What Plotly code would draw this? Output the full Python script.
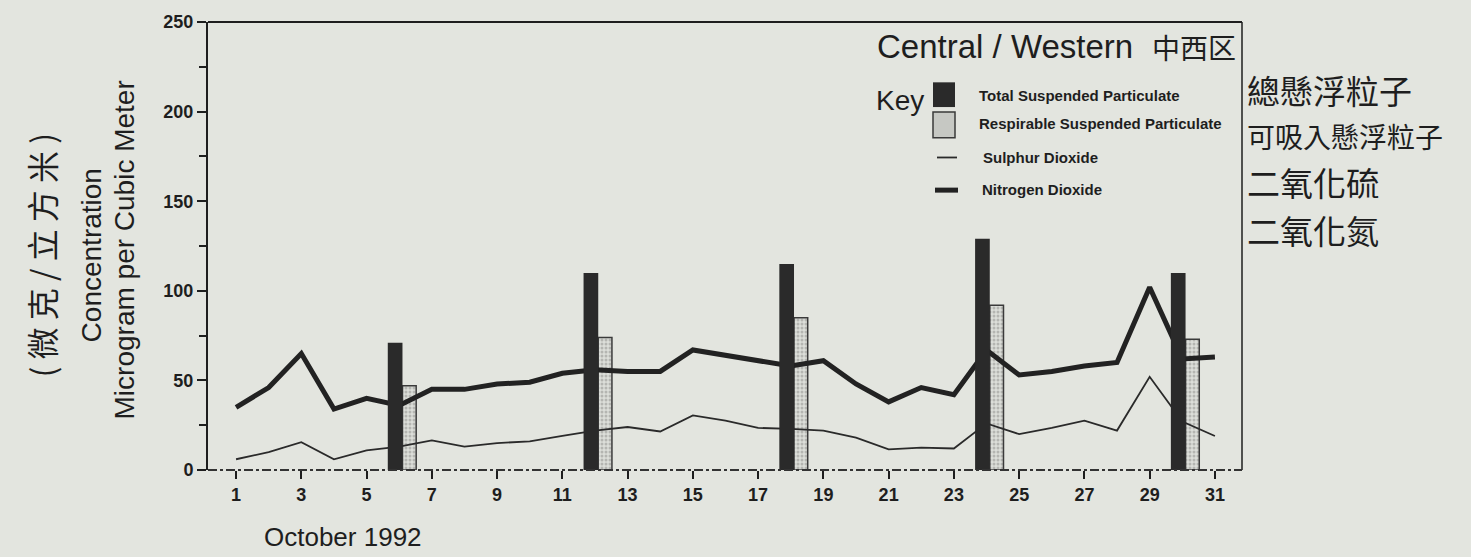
import plotly.graph_objects as go

# October 1992, Central / Western district
days = list(range(1, 32))
no2 = [35, 46, 65, 34, 40, 36, 45, 45, 48, 49, 54, 56, 55, 55, 67, 64,
       61, 58, 61, 48, 38, 46, 42, 67, 53, 55, 58, 60, 102, 62, 63]
so2 = [6, 10, 15.5, 6, 11, 13, 16.5, 13, 15, 16, 19, 22, 24, 21.5, 30.5, 27.5,
       23.5, 23, 22, 18, 11.5, 12.5, 12, 26, 20, 23.5, 27.5, 22, 52, 27, 19]

bar_days = [6, 12, 18, 24, 30]
tsp = [71, 110, 115, 129, 110]
rsp = [47, 74, 85, 92, 73]

xticks = list(range(1, 32, 2))

PAPER = "#e3e5df"
INK = "#1e1e1e"
FONT = "Liberation Sans, Arial, sans-serif"
CJK = "Noto Sans CJK TC"

# plot area in page pixels, used to place the loose text
L, R, T, B = 208, 1242, 17, 470


def px(x):
    return (x - L) / (R - L)


def py(y):
    return (B - y) / (B - T)


fig = go.Figure()

fig.add_trace(go.Bar(
    x=bar_days, y=rsp, offset=0.1, width=0.42,
    marker=dict(color="#d6d8d3",
                pattern=dict(shape=".", fgcolor="#8c8c8a", bgcolor="#dcded9",
                             size=4, solidity=0.45),
                line=dict(color="#3a3a3a", width=1.5)),
    name="Respirable Suspended Particulate",
))
fig.add_trace(go.Scatter(
    x=days, y=so2, mode="lines", line=dict(color="#2a2a2a", width=1.8),
    name="Sulphur Dioxide",
))
fig.add_trace(go.Scatter(
    x=days, y=no2, mode="lines", line=dict(color="#222222", width=5),
    name="Nitrogen Dioxide",
))
# TSP sits on an overlaid axis so it is drawn above the lines
fig.add_trace(go.Bar(
    x=bar_days, y=tsp, offset=-0.35, width=0.45,
    marker=dict(color="#2a2a2a", line=dict(width=0)),
    name="Total Suspended Particulate", xaxis="x2", yaxis="y2",
))

annotations = [
    dict(text="Central / Western", x=px(875), y=py(42), xanchor="left",
         font=dict(size=33, family=FONT)),
    dict(text="中西区", x=px(1150), y=py(42), xanchor="left",
         font=dict(size=28, family="Noto Sans CJK SC")),
    dict(text="Key", x=px(874), y=py(96), xanchor="left",
         font=dict(size=28, family=FONT)),
    dict(text="<b>Total Suspended Particulate</b>", x=px(977), y=py(91),
         xanchor="left", font=dict(size=15, family=FONT)),
    dict(text="<b>Respirable Suspended Particulate</b>", x=px(977), y=py(120),
         xanchor="left", font=dict(size=15, family=FONT)),
    dict(text="<b>Sulphur Dioxide</b>", x=px(981), y=py(154),
         xanchor="left", font=dict(size=15, family=FONT)),
    dict(text="<b>Nitrogen Dioxide</b>", x=px(980), y=py(186),
         xanchor="left", font=dict(size=15, family=FONT)),
    dict(text="總懸浮粒子", x=px(1245), y=py(86), xanchor="left",
         font=dict(size=33, family=CJK)),
    dict(text="可吸入懸浮粒子", x=px(1245), y=py(132), xanchor="left",
         font=dict(size=28, family=CJK)),
    dict(text="二氧化硫", x=px(1245), y=py(179), xanchor="left",
         font=dict(size=33, family=CJK)),
    dict(text="二氧化氮", x=px(1245), y=py(227), xanchor="left",
         font=dict(size=33, family=CJK)),
    dict(text="( 微 克 / 立 方 米 )", x=px(41), y=py(253), textangle=-90,
         font=dict(size=32, family=CJK)),
    dict(text="Concentration", x=px(91), y=py(253), textangle=-90,
         font=dict(size=28, family=FONT)),
    dict(text="Microgram per Cubic Meter", x=px(124), y=py(248), textangle=-90,
         font=dict(size=28, family=FONT)),
    dict(text="October 1992", x=px(262), y=py(538), xanchor="left",
         font=dict(size=26, family=FONT)),
]
for a in annotations:
    a.setdefault("xanchor", "center")
    a.update(xref="paper", yref="paper", yanchor="middle", showarrow=False)
    a["font"].setdefault("color", INK)

shapes = [
    # frame: top and right solid, bottom broken like the photocopy
    dict(type="line", xref="paper", yref="paper", x0=0, x1=1, y0=1, y1=1,
         line=dict(color=INK, width=2)),
    dict(type="line", xref="paper", yref="paper", x0=1, x1=1, y0=0, y1=1,
         line=dict(color=INK, width=1.5)),
    dict(type="line", xref="paper", yref="paper", x0=0, x1=1, y0=0, y1=0,
         line=dict(color="#333333", width=2, dash="dashdot")),
    # key swatches
    dict(type="rect", xref="paper", yref="paper", x0=px(933), x1=px(955),
         y0=py(103), y1=py(78), fillcolor="#2a2a2a", line=dict(width=0)),
    dict(type="rect", xref="paper", yref="paper", x0=px(933), x1=px(955),
         y0=py(134), y1=py(108), fillcolor="#c6c8c3",
         line=dict(color="#3a3a3a", width=1.5)),
    dict(type="line", xref="paper", yref="paper", x0=px(937), x1=px(957),
         y0=py(154), y1=py(154), line=dict(color="#2a2a2a", width=1.8)),
    dict(type="line", xref="paper", yref="paper", x0=px(935), x1=px(958),
         y0=py(187), y1=py(187), line=dict(color="#222222", width=5)),
]

xrange = [0.14, 31.83]
yrange = [0, 250]

fig.update_layout(
    width=1471, height=557,
    margin=dict(l=L, r=1471 - R, t=T, b=557 - B),
    paper_bgcolor=PAPER, plot_bgcolor=PAPER,
    showlegend=False, barmode="overlay",
    font=dict(family=FONT, color=INK, size=18),
    xaxis=dict(range=xrange, tickvals=xticks, ticks="outside", ticklen=8,
               tickwidth=1.5, tickcolor=INK, showgrid=False, zeroline=False,
               showline=False, tickfont=dict(size=18, weight="bold")),
    yaxis=dict(range=yrange, dtick=50, ticks="outside", ticklen=9, tickwidth=1.5,
               tickcolor=INK, showline=True, linecolor=INK, linewidth=2,
               showgrid=False, zeroline=False,
               tickfont=dict(size=18, weight="bold"),
               minor=dict(dtick=25, ticks="outside", ticklen=7, tickwidth=1.5,
                          tickcolor=INK)),
    xaxis2=dict(range=xrange, overlaying="x", visible=False),
    yaxis2=dict(range=yrange, overlaying="y", visible=False),
    annotations=annotations,
    shapes=shapes,
)

# drop the browser's default page margin so the figure fills the window
fig.write_html("out.html", config={"displayModeBar": False},
               post_script="document.body.style.margin='0';"
                           "document.body.style.background='" + PAPER + "';")
